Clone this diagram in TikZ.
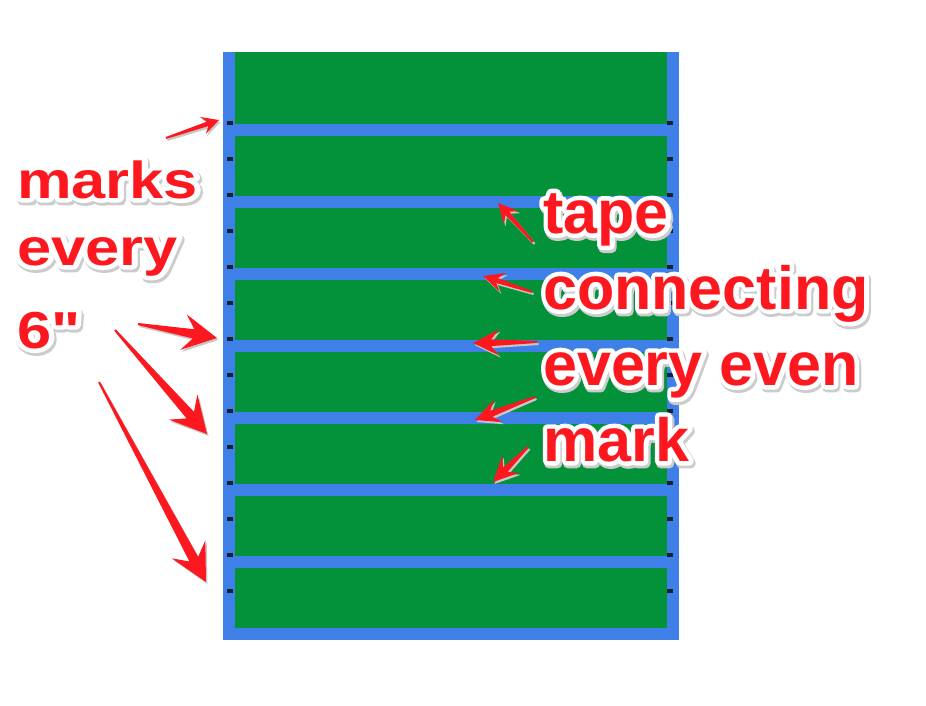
\documentclass[tikz,border=0pt]{standalone}
\usepackage{fontspec}
\setmainfont{Liberation Sans}
\usetikzlibrary{calc}
\definecolor{grn}{RGB}{3,146,58}
\definecolor{blu}{RGB}{62,128,232}
\definecolor{rd}{RGB}{252,24,30}
\definecolor{mk}{RGB}{25,32,48}
\tikzset{
  lblbig/.style={inner sep=0pt, anchor=base west, font=\bfseries\fontsize{61}{61}\selectfont},
  lblsmall/.style={inner sep=0pt, anchor=base west, font=\bfseries\fontsize{52}{52}\selectfont},
  tapebar/.style={fill=blu},
  greenpanel/.style={fill=grn},
  markbox/.style={fill=mk},
  arrowshadow/.style={fill=black!22},
  arrowbody/.style={fill=rd}
}
\newcommand\strk[2]{\special{pdf:literal direct 1 Tr #1 w 1 j}#2\special{pdf:literal direct 0 Tr 1 w 0 j}}
\newcommand\outlined[4]{% name, style, position, text
  \node[#2,text=black!20] at ($(#3)+(1.6,2.4)$) {\strk{10}{#4}};
  \node[#2,text=white] at (#3) {\strk{9}{#4}};
  \node[#2,text=rd] (#1) at (#3) {#4};
}
\newcommand\sq{\XeTeXglyph\XeTeXcharglyph"22\relax}
\newcommand\arrowshape[4]{($(#1)!1pt!90:(#2)$) -- ($(#2)!\ahn pt!(#1)!\ahw pt!90:(#2)$) -- ($(#2)!#3pt!(#1)!#4pt!90:(#2)$) -- (#2) -- ($(#2)!#3pt!(#1)!#4pt!-90:(#2)$) -- ($(#2)!\ahn pt!(#1)!\ahw pt!-90:(#2)$) -- ($(#1)!1pt!-90:(#2)$) -- cycle}
\newcommand\redarrow[4]{% tail, tip, head length, head half width
  \pgfmathsetmacro\ahn{0.7*#3}%
  \pgfmathsetmacro\ahw{0.26*#4}%
  \begin{scope}[transform canvas={xshift=1.5pt,yshift=-2pt}]
    \path[arrowshadow] \arrowshape{#1}{#2}{#3}{#4};
  \end{scope}
  \path[arrowbody] \arrowshape{#1}{#2}{#3}{#4};
}
\begin{document}
\begin{tikzpicture}[x=1pt,y=-1pt]
\fill[white] (0,0) rectangle (926,706);
\useasboundingbox (0,0) rectangle (926,706);
% frame
\fill[tapebar] (223,52) rectangle (679,640);
\foreach \k in {1,...,7}{
  \pgfmathsetmacro\ytop{52+72*\k}
  \fill[greenpanel] (235,\ytop+12) rectangle (667,\ytop+72);
}
\fill[greenpanel] (235,52) rectangle (667,124);
% marks
\foreach \k in {0,...,13}{
  \pgfmathsetmacro\ym{123+36*\k}
  \fill[markbox] (227,\ym-2) rectangle (233,\ym+2);
  \fill[markbox] (667,\ym-2) rectangle (673,\ym+2);
}
% arrow end points
\coordinate (l1t) at (166,138); \coordinate (l1h) at (219,120);
\coordinate (l2t) at (138,324); \coordinate (l2h) at (217,338);
\coordinate (l3t) at (115,330); \coordinate (l3h) at (207,434);
\coordinate (l4t) at (99,382);  \coordinate (l4h) at (206,582);
\coordinate (r1t) at (533,242); \coordinate (r1h) at (498,203);
\coordinate (r2t) at (532,292); \coordinate (r2h) at (483,276);
\coordinate (r3t) at (537,342); \coordinate (r3h) at (473,343);
\coordinate (r4t) at (535,397); \coordinate (r4h) at (475,420);
\coordinate (r5t) at (528,447); \coordinate (r5h) at (493,482);
\redarrow{l1t}{l1h}{17}{9}
\redarrow{l2t}{l2h}{34}{18}
\redarrow{l3t}{l3h}{36}{19}
\redarrow{l4t}{l4h}{37}{19}
\redarrow{r1t}{r1h}{20}{10}
\redarrow{r2t}{r2h}{21}{10}
\redarrow{r3t}{r3h}{26}{13}
\redarrow{r4t}{r4h}{25}{12}
\redarrow{r5t}{r5h}{25}{12}
% labels
\outlined{tmarks}{lblsmall}{17,198}{\scalebox{1.18}[1]{marks}}
\outlined{tevery}{lblsmall}{17,265}{\scalebox{1.18}[1]{every}}
\outlined{tsix}{lblsmall}{17,348}{\scalebox{1.18}[1]{6\sq}}
\outlined{ttape}{lblbig}{543,233}{tape}
\outlined{tconn}{lblbig}{543,309}{connecting}
\outlined{teven}{lblbig}{543,385}{every even}
\outlined{tmark}{lblbig}{543,461}{mark}
\end{tikzpicture}
\end{document}
